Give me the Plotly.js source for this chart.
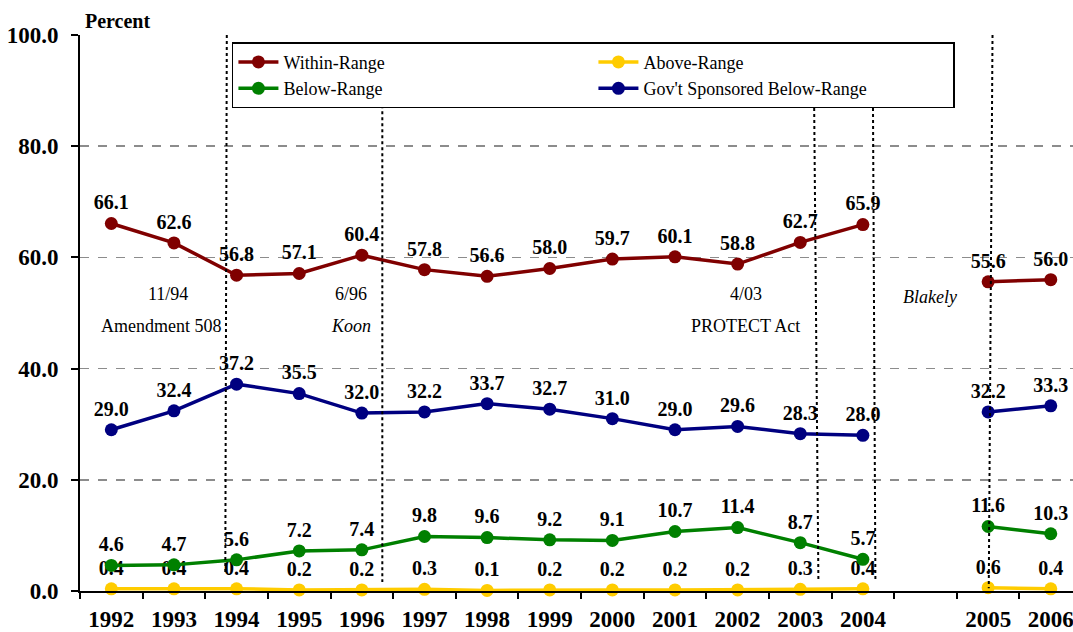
<!DOCTYPE html>
<html>
<head>
<meta charset="utf-8">
<script src="https://cdn.plot.ly/plotly-3.0.1.min.js"></script>
<style>
  html, body { margin: 0; padding: 0; background: #fff; }
  #chart { width: 1073px; height: 632px; }
</style>
</head>
<body>
<div id="chart"></div>
<script>
// Categories (a blank slot separates 2004 and 2005)
const years = ['1992','1993','1994','1995','1996','1997','1998','1999','2000','2001','2002','2003','2004',' ','2005','2006'];

// Series values (null = gap)
const withinRange   = [66.1, 62.6, 56.8, 57.1, 60.4, 57.8, 56.6, 58.0, 59.7, 60.1, 58.8, 62.7, 65.9, null, 55.6, 56.0];
const aboveRange    = [0.4, 0.4, 0.4, 0.2, 0.2, 0.3, 0.1, 0.2, 0.2, 0.2, 0.2, 0.3, 0.4, null, 0.6, 0.4];
const belowRange    = [4.6, 4.7, 5.6, 7.2, 7.4, 9.8, 9.6, 9.2, 9.1, 10.7, 11.4, 8.7, 5.7, null, 11.6, 10.3];
const govBelowRange = [29.0, 32.4, 37.2, 35.5, 32.0, 32.2, 33.7, 32.7, 31.0, 29.0, 29.6, 28.3, 28.0, null, 32.2, 33.3];

const seriesNames = ['Within-Range', 'Above-Range', 'Below-Range', "Gov't Sponsored Below-Range"];
const seriesColors = ['#800000', '#FFCC00', '#008000', '#000080'];
const seriesValues = [withinRange, aboveRange, belowRange, govBelowRange];

const FONT = 'Liberation Serif';

const traces = seriesValues.map((vals, i) => ({
  type: 'scatter',
  mode: 'lines+markers+text',
  name: seriesNames[i],
  x: years,
  y: vals,
  connectgaps: false,
  line: { color: seriesColors[i], width: 3.5 },
  marker: { color: seriesColors[i], size: 13 },
  texttemplate: '%{y:.1f}',
  textposition: 'top center',
  textfont: { family: FONT, size: 20, color: '#000', weight: 700 },
  cliponaxis: false,
  hoverinfo: 'x+y+name'
}));

// Event markers (vertical dotted lines) and their captions
const vline = (x0, y0, x1, y1) => ({
  type: 'line', xref: 'x', yref: 'y', x0: x0, y0: y0, x1: x1, y1: y1,
  line: { color: '#000', width: 2, dash: 'dot' }
});
const shapes = [
  vline(1.844, 100, 1.82, 3.0),
  vline(4.327, 90.6, 4.327, 1.6),
  vline(11.22, 90.1, 11.29, 1.7),
  vline(12.16, 90.1, 12.2, 1.9),
  vline(14.07, 100, 14.01, 0.5)
];

const note = (text, x, y, italic) => ({
  text: text, x: x, y: y, xref: 'x', yref: 'y', showarrow: false,
  xanchor: 'center', yanchor: 'middle',
  font: { family: FONT, size: 18, color: '#000', style: italic ? 'italic' : 'normal' }
});
const annotations = [
  note('11/94', 0.90, 53.4, false),
  note('Amendment 508', 0.79, 47.6, false),
  note('6/96', 3.82, 53.4, false),
  note('Koon', 3.82, 47.6, true),
  note('4/03', 10.13, 53.4, false),
  note('PROTECT Act', 10.13, 47.6, false),
  note('Blakely', 13.07, 52.8, true),
  {
    text: 'Percent', xref: 'paper', yref: 'paper', x: 0.003, y: 1.025,
    xanchor: 'left', yanchor: 'middle', showarrow: false,
    font: { family: FONT, size: 20, color: '#000', weight: 700 }
  }
];

const layout = {
  width: 1073,
  height: 632,
  margin: { l: 80, r: 0, t: 35, b: 41 },
  paper_bgcolor: '#fff',
  plot_bgcolor: '#fff',
  font: { family: FONT },
  showlegend: true,
  legend: {
    orientation: 'h',
    x: 0.153, xanchor: 'left',
    y: 0.987, yanchor: 'top',
    bgcolor: '#fff',
    bordercolor: '#000',
    borderwidth: 1.5,
    entrywidth: 305,
    entrywidthmode: 'pixels',
    tracegroupgap: 0,
    itemwidth: 40,
    font: { family: FONT, size: 18, color: '#000' }
  },
  xaxis: {
    type: 'category',
    categoryorder: 'array',
    categoryarray: years,
    range: [-0.5, 15.355],
    tickson: 'boundaries',
    ticks: 'outside',
    ticklen: 6,
    tickwidth: 2,
    tickcolor: '#000',
    showline: true,
    linecolor: '#000',
    linewidth: 2,
    showgrid: false,
    zeroline: false,
    ticklabelstandoff: 6,
    tickfont: { family: FONT, size: 23, color: '#000', weight: 700 },
    fixedrange: true
  },
  yaxis: {
    range: [0, 100],
    dtick: 20,
    tick0: 0,
    tickformat: '.1f',
    ticks: 'outside',
    ticklen: 7,
    tickwidth: 2,
    tickcolor: '#000',
    showline: true,
    linecolor: '#000',
    linewidth: 2,
    showgrid: true,
    gridcolor: '#8c8c8c',
    gridwidth: 1.5,
    griddash: 'dash',
    zeroline: false,
    ticklabelstandoff: 8,
    tickfont: { family: FONT, size: 23, color: '#000', weight: 700 },
    fixedrange: true
  },
  shapes: shapes,
  annotations: annotations
};

Plotly.newPlot('chart', traces, layout, { displayModeBar: false, staticPlot: true });
</script>
</body>
</html>
